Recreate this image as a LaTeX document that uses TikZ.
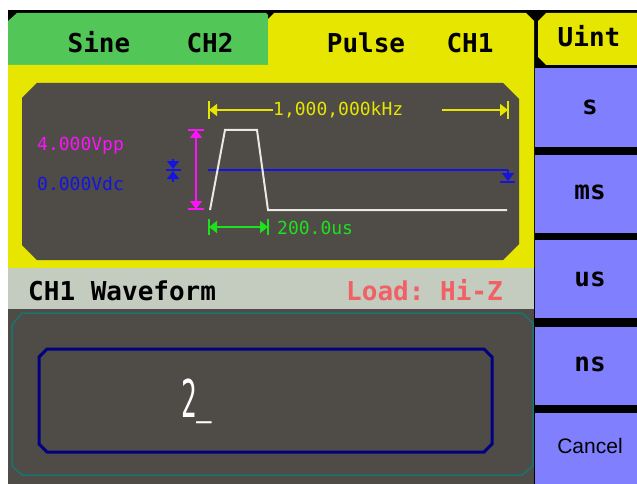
\documentclass[tikz,border=0pt]{standalone}
\usepackage{fontspec}
\setmonofont{DejaVu Sans Mono}
\setsansfont{Liberation Sans}
\usetikzlibrary{arrows.meta}

\definecolor{scrgray}{RGB}{79,75,70}
\definecolor{tabgreen}{RGB}{82,198,86}
\definecolor{tabyellow}{RGB}{230,230,0}
\definecolor{keyblue}{RGB}{128,128,255}
\definecolor{barpale}{RGB}{196,204,192}
\definecolor{loadred}{RGB}{240,96,100}
\definecolor{boxteal}{RGB}{24,116,110}
\definecolor{boxnavy}{RGB}{0,0,128}
\definecolor{ampmag}{RGB}{250,20,250}
\definecolor{dcblue}{RGB}{20,20,225}
\definecolor{pergreen}{RGB}{30,225,30}
\definecolor{tracewhite}{RGB}{232,232,228}

\tikzset{
  tablabel/.style={font=\ttfamily\bfseries\fontsize{26}{26}\selectfont, text=black, inner sep=0, anchor=base},
  keybox/.style={rectangle, fill=keyblue, minimum width=110, inner sep=0, text=black, font=\ttfamily\bfseries\fontsize{26}{26}\selectfont},
  readout/.style={font=\ttfamily\fontsize{18}{18}\selectfont, inner sep=0, anchor=base west},
  tipmark/.style={-{Triangle[length=8pt,width=12pt]}},
  bothmark/.style={{Triangle[length=8pt,width=12pt]}-{Triangle[length=8pt,width=12pt]}},
}

\begin{document}
\begin{tikzpicture}[x=1pt, y=-1pt]
	\useasboundingbox (0,0) rectangle (637,484);
	\clip (0,0) rectangle (637,484);
	\fill[white] (0,0) rectangle (637,484);
	\fill[black] (8,10) rectangle (637,484);
	% channel tabs
	\fill[tabgreen] (8,21) -- (17,13) -- (266,13) -- (268,15) -- (268,65) -- (8,65) -- cycle;
	\fill[tabyellow] (8,65) -- (268,65) -- (268,19) -- (274,13) -- (526,13) -- (534,21) -- (534,268) -- (8,268) -- cycle;
	\node[tablabel] (sine) at (99,52.5) {Sine};
	\node[tablabel] (ch2) at (210,52.5) {CH2};
	\node[tablabel] (pulse) at (366,52.5) {Pulse};
	\node[tablabel] (ch1) at (470,52.5) {CH1};
	% soft keys
	\fill[tabyellow] (538,21) -- (546,13) -- (637,13) -- (637,65) -- (546,65) -- (538,57) -- cycle;
	\node[tablabel] (unit) at (589,47) {Uint};
	\node[keybox, minimum height=79] (ksec) at (590,107.5) {s};
	\node[keybox, minimum height=78, text depth=4pt] (kms) at (590,194) {ms};
	\node[keybox, minimum height=78] (kus) at (590,279) {us};
	\node[keybox, minimum height=78, text depth=4pt] (kns) at (590,366) {ns};
	\node[keybox, minimum height=71, text depth=5pt, font=\sffamily\fontsize{21}{21}\selectfont] (kcancel) at (590,448.5) {Cancel};
	% waveform display
	\fill[scrgray] (22,98) -- (37,83) -- (503,83) -- (519,99) -- (519,244) -- (503,260) -- (37,260) -- (22,245) -- cycle;
	\node[readout, text=ampmag] (vpp) at (37,150) {4.000Vpp};
	\node[readout, text=dcblue] (vdc) at (37,190) {0.000Vdc};
	\node[readout, text=tabyellow] (freq) at (273,116) {1,000,000kHz};
	\node[readout, text=pergreen] (pwidth) at (277,234) {200.0us};
	\coordinate (fL) at (209,110);
	\coordinate (fR0) at (442,110);
	\coordinate (fR) at (508,110);
	\draw[tabyellow, line width=1.5, tipmark] (freq.west |- fL) -- (fL);
	\draw[tabyellow, line width=1.5, tipmark] (fR0) -- (fR);
	\draw[tabyellow, line width=1.5] (fL) ++(0,-9) -- ++(0,18) (fR) ++(0,-9) -- ++(0,18);
	\coordinate (aT) at (196,130);
	\coordinate (aB) at (196,209);
	\draw[ampmag, line width=2, bothmark] (aT) -- (aB);
	\draw[ampmag, line width=2] (aT) ++(-8,0) -- ++(16,0) (aB) ++(-8,0) -- ++(16,0);
	\coordinate (dcL) at (208,170);
	\coordinate (dcR) at (508,170);
	\coordinate (dcUp) at (173,169);
	\coordinate (dcDn) at (173,171);
	\draw[dcblue, line width=2] (dcL) -- (dcR);
	\draw[dcblue, line width=1.5, tipmark] (dcR) -- ++(0,11);
	\draw[dcblue, line width=2] (500,182) -- (515,182);
	\draw[dcblue, line width=1.5, tipmark] (173,159) -- (dcUp);
	\draw[dcblue, line width=1.5, tipmark] (173,182) -- (dcDn);
	\draw[dcblue, line width=2] (166,170) -- (181,170);
	\draw[tracewhite, line width=2] (210,210) -- (225,130) -- (257,130) -- (268,210) -- (507,210);
	\coordinate (wL) at (209,227);
	\coordinate (wR) at (268,227);
	\draw[pergreen, line width=2, bothmark] (wL) -- (wR);
	\draw[pergreen, line width=2] (wL) ++(0,-8) -- ++(0,16) (wR) ++(0,-8) -- ++(0,16);
	% status line
	\fill[barpale] (8,268) rectangle (534,309);
	\node[tablabel, anchor=base west] (wave) at (28,300) {CH1 Waveform};
	\node[tablabel, anchor=base west, text=loadred] (load) at (346,300) {Load: Hi-Z};
	% entry field
	\fill[scrgray] (8,309) rectangle (534,484);
	\draw[boxteal, line width=1.5] (12,325) -- (22,313) -- (522,313) -- (533,323) -- (533,466) -- (522,475) -- (22,475) -- (12,466) -- cycle;
	\draw[boxnavy, line width=3] (39,357) -- (47,349) -- (484,349) -- (492,357) -- (492,444) -- (484,452) -- (47,452) -- (39,444) -- cycle;
	\node[anchor=base west, inner sep=0, text=white, font=\ttfamily\fontsize{52}{52}\selectfont] (value) at (181,417) {\scalebox{0.5}[1]{2\raisebox{6pt}{\_}}};
\end{tikzpicture}
\end{document}
